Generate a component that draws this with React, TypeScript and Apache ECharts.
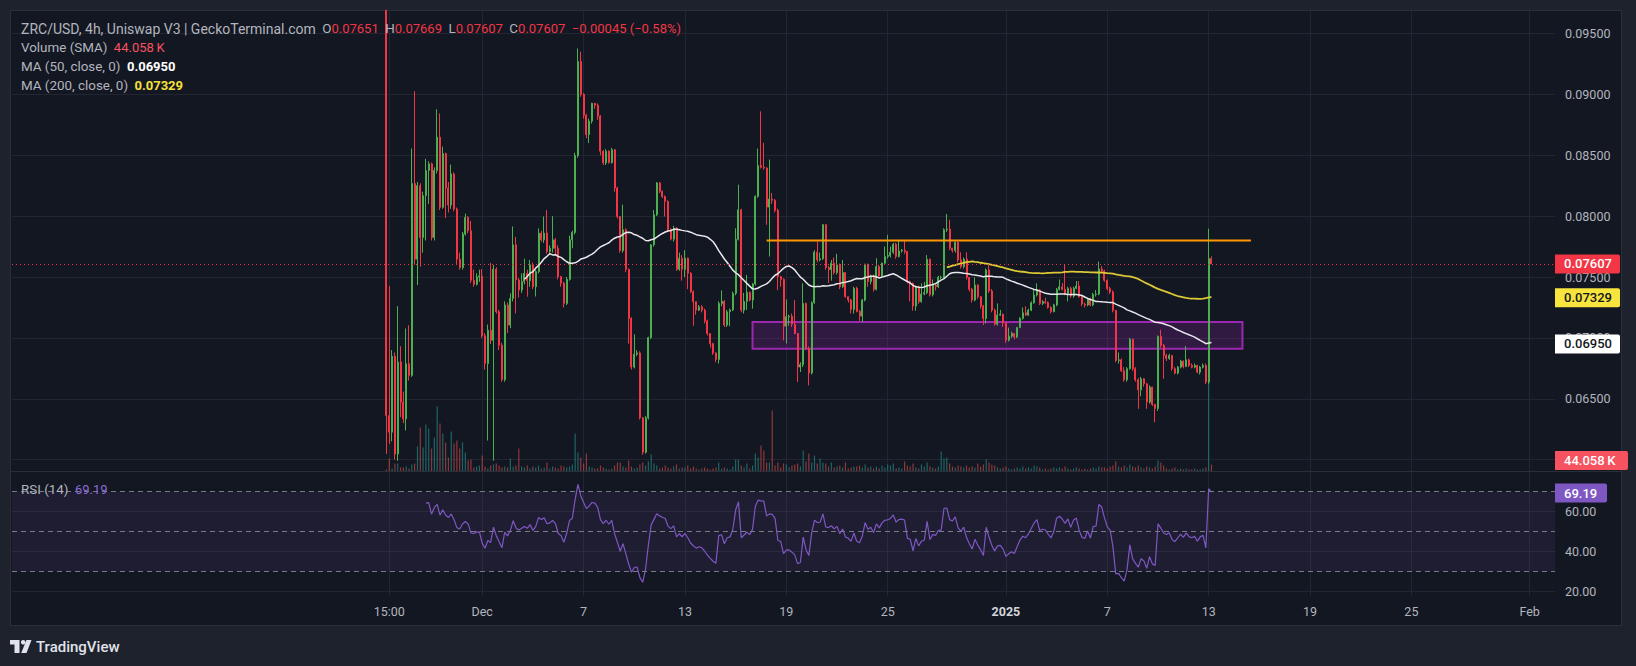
import React, { useEffect, useRef } from 'react';
import * as echarts from 'echarts';

// price unit for the candle table: 0.00001 USD
const PRICE_UNIT = 0.00001;

// ZRC/USD 4h candles, [open, high, low, close] in units of 0.00001 USD
const candles: number[][] = [
  // 0
  [9690, 9690, 6047, 6363], [6363, 7426, 6130, 6226], [6226, 6900, 6150, 6849], [6849, 6880, 6000, 6047], [6047, 7261, 5990, 6802],
  [6802, 6932, 6349, 6473], [6473, 6560, 6300, 6335], [6335, 7077, 6240, 6788], [6788, 7104, 6650, 6693], [6693, 8555, 6680, 8267],
  // 10
  [8267, 9025, 7600, 7646], [7646, 8280, 7434, 8250], [8250, 8270, 7585, 7824], [7824, 8200, 7700, 8168], [8168, 8470, 7800, 8374],
  [8374, 8450, 8100, 8429], [8429, 8440, 7800, 7824], [7824, 8400, 7800, 8374], [8374, 8876, 8350, 8648], [8648, 8843, 8050, 8072],
  // 20
  [8072, 8570, 8060, 8514], [8514, 8520, 7984, 8231], [8231, 8280, 8030, 8091], [8091, 8423, 8060, 8346], [8346, 8360, 8040, 8058],
  [8058, 8070, 7600, 7646], [7646, 7700, 7560, 7577], [7577, 7870, 7560, 7852], [7852, 8020, 7840, 7989], [7989, 8000, 7860, 7880],
  // 30
  [7880, 7960, 7450, 7473], [7473, 7560, 7420, 7440], [7440, 7530, 7430, 7500], [7500, 7560, 7460, 7509], [7509, 7565, 7000, 7017],
  [7017, 7040, 6740, 6789], [6789, 7110, 6157, 7063], [7063, 7616, 6950, 6980], [6980, 7600, 5992, 7565], [7565, 7580, 7200, 7215],
  // 40
  [7215, 7230, 6900, 6940], [6940, 6960, 6640, 6657], [6657, 7300, 6640, 7270], [7270, 7290, 7040, 7105], [7105, 7366, 7080, 7324],
  [7324, 7915, 7300, 7764], [7764, 7830, 7201, 7476], [7476, 7490, 7330, 7393], [7393, 7530, 7370, 7462], [7462, 7650, 7440, 7530],
  // 50
  [7530, 7560, 7338, 7470], [7470, 7640, 7420, 7600], [7600, 7620, 7400, 7420], [7420, 7560, 7340, 7544], [7544, 7900, 7530, 7860],
  [7860, 7880, 7790, 7805], [7805, 7997, 7780, 7860], [7860, 8050, 7690, 7709], [7709, 7760, 7690, 7736], [7736, 8000, 7700, 7805],
  // 60
  [7805, 7820, 7680, 7736], [7736, 7760, 7480, 7503], [7503, 7510, 7420, 7450], [7450, 7460, 7250, 7283], [7283, 7500, 7270, 7481],
  [7481, 7840, 7470, 7805], [7805, 7880, 7736, 7866], [7866, 8520, 7850, 8497], [8497, 9376, 8480, 9269], [9269, 9350, 8980, 9000],
  // 70
  [9000, 9010, 8800, 8827], [8827, 8840, 8640, 8670], [8670, 8800, 8600, 8780], [8780, 8930, 8760, 8926], [8926, 8930, 8880, 8910],
  [8910, 8925, 8790, 8820], [8820, 8830, 8500, 8533], [8533, 8540, 8420, 8437], [8437, 8550, 8420, 8533], [8533, 8540, 8430, 8440],
  // 80
  [8440, 8560, 8430, 8545], [8545, 8550, 8200, 8231], [8231, 8240, 7980, 7997], [7997, 8000, 7700, 7717], [7717, 8094, 7700, 7888],
  [7888, 7900, 7540, 7563], [7563, 7570, 6953, 7160], [7160, 7170, 6740, 6761], [6761, 7030, 6750, 6866], [6866, 6900, 6850, 6877],
  // 90
  [6877, 6890, 6330, 6344], [6344, 6350, 6040, 6061], [6061, 6360, 6050, 6344], [6344, 7010, 6330, 7003], [7003, 7770, 6990, 7764],
  [7764, 8050, 7750, 8011], [8011, 8280, 8000, 8272], [8272, 8280, 8190, 8203], [8203, 8210, 8150, 8160], [8160, 8170, 7997, 8121],
  // 100
  [8121, 8130, 7870, 7888], [7888, 7900, 7800, 7811], [7811, 7920, 7790, 7901], [7901, 7910, 7550, 7563], [7563, 7700, 7550, 7654],
  [7654, 7680, 7470, 7563], [7563, 7720, 7500, 7654], [7654, 7660, 7400, 7530], [7530, 7540, 7370, 7379], [7379, 7390, 7100, 7297],
  // 110
  [7297, 7300, 7190, 7228], [7228, 7270, 7220, 7256], [7256, 7270, 7210, 7228], [7228, 7240, 7120, 7140], [7140, 7150, 7020, 7036],
  [7036, 7040, 6920, 6953], [6953, 6960, 6860, 6877], [6877, 6880, 6800, 6822], [6822, 7300, 6790, 7283], [7283, 7390, 7260, 7300],
  // 120
  [7300, 7310, 7090, 7105], [7105, 7230, 7090, 7215], [7215, 7240, 7096, 7230], [7230, 7380, 7220, 7366], [7366, 7900, 7350, 7810],
  [7810, 8258, 7800, 8052], [8052, 8060, 7210, 7228], [7228, 7370, 7200, 7300], [7300, 7517, 7230, 7374], [7374, 7380, 7300, 7311],
  // 130
  [7311, 7450, 7240, 7443], [7443, 8170, 7430, 8162], [8162, 8555, 8150, 8415], [8415, 8860, 8390, 8401], [8401, 8602, 8380, 8395],
  [8395, 8400, 7929, 8074], [8074, 8464, 7668, 8140], [8140, 8190, 8100, 8130], [8130, 8140, 8030, 8047], [8047, 8060, 7393, 7503],
  // 140
  [7503, 7510, 7420, 7480], [7480, 7490, 6980, 7096], [7096, 7316, 6953, 7173], [7173, 7190, 7100, 7179], [7179, 7200, 7090, 7113],
  [7113, 7310, 7030, 7036], [7036, 7040, 6638, 6761], [6761, 6800, 6720, 6780], [6780, 7448, 6760, 7283], [7283, 7290, 6900, 6912],
  // 150
  [6912, 6930, 6610, 6712], [6712, 7300, 6700, 7289], [7289, 7720, 7280, 7704], [7704, 7791, 7620, 7640], [7640, 7700, 7630, 7650],
  [7650, 7935, 7640, 7929], [7929, 7935, 7560, 7577], [7577, 7590, 7450, 7560], [7560, 7640, 7470, 7613], [7613, 7660, 7520, 7536],
  // 160
  [7536, 7690, 7520, 7599], [7599, 7610, 7400, 7420], [7420, 7640, 7410, 7536], [7536, 7540, 7330, 7338], [7338, 7340, 7290, 7311],
  [7311, 7320, 7200, 7234], [7234, 7420, 7200, 7407], [7407, 7420, 7210, 7217], [7217, 7230, 7140, 7179], [7179, 7320, 7130, 7311],
  // 170
  [7311, 7610, 7300, 7599], [7599, 7610, 7420, 7462], [7462, 7520, 7440, 7508], [7508, 7520, 7380, 7399], [7399, 7654, 7390, 7585],
  [7585, 7600, 7490, 7508], [7508, 7620, 7500, 7613], [7613, 7750, 7600, 7668], [7668, 7846, 7650, 7676], [7676, 7750, 7660, 7703],
  // 180
  [7703, 7780, 7690, 7769], [7769, 7780, 7650, 7668], [7668, 7805, 7660, 7714], [7714, 7730, 7700, 7720], [7720, 7805, 7690, 7709],
  [7709, 7715, 7448, 7462], [7462, 7470, 7300, 7448], [7448, 7455, 7223, 7261], [7261, 7430, 7223, 7420], [7420, 7430, 7280, 7297],
  // 190
  [7297, 7448, 7290, 7360], [7360, 7460, 7350, 7371], [7371, 7680, 7360, 7646], [7646, 7650, 7340, 7355], [7355, 7480, 7340, 7434],
  [7434, 7440, 7390, 7420], [7420, 7510, 7410, 7497], [7497, 7510, 7480, 7500], [7500, 7900, 7490, 7888], [7888, 8017, 7870, 7893],
  // 200
  [7893, 7970, 7720, 7736], [7736, 7740, 7700, 7717], [7717, 7790, 7700, 7786], [7786, 7790, 7620, 7640], [7640, 7703, 7570, 7585],
  [7585, 7660, 7570, 7646], [7646, 7703, 7480, 7497], [7497, 7500, 7380, 7399], [7399, 7410, 7290, 7311], [7311, 7497, 7300, 7434],
  // 210
  [7434, 7440, 7320, 7338], [7338, 7345, 7240, 7261], [7261, 7270, 7105, 7160], [7160, 7570, 7118, 7558], [7558, 7599, 7370, 7385],
  [7385, 7400, 7210, 7228], [7228, 7240, 7100, 7113], [7113, 7283, 7100, 7187], [7187, 7230, 7180, 7195], [7195, 7200, 7090, 7124],
  // 220
  [7124, 7130, 6960, 6981], [6981, 7085, 6970, 7014], [7014, 7050, 7000, 7036], [7036, 7040, 6990, 7008], [7008, 7090, 7000, 7085],
  [7085, 7170, 7080, 7160], [7160, 7250, 7150, 7206], [7206, 7260, 7180, 7187], [7187, 7240, 7180, 7228], [7228, 7300, 7220, 7289],
  // 230
  [7289, 7400, 7280, 7352], [7352, 7448, 7340, 7393], [7393, 7400, 7270, 7283], [7283, 7310, 7270, 7297], [7297, 7330, 7280, 7290],
  [7290, 7300, 7240, 7250], [7250, 7260, 7200, 7215], [7215, 7280, 7210, 7270], [7270, 7410, 7260, 7399], [7399, 7480, 7390, 7420],
  // 240
  [7420, 7450, 7390, 7399], [7399, 7599, 7350, 7366], [7366, 7420, 7300, 7407], [7407, 7420, 7330, 7344], [7344, 7420, 7330, 7407],
  [7407, 7467, 7400, 7426], [7426, 7467, 7330, 7338], [7338, 7345, 7260, 7278], [7278, 7290, 7250, 7270], [7270, 7330, 7260, 7324],
  // 250
  [7324, 7330, 7260, 7270], [7270, 7370, 7260, 7357], [7357, 7393, 7340, 7360], [7360, 7627, 7350, 7566], [7566, 7590, 7530, 7549],
  [7549, 7560, 7460, 7473], [7473, 7480, 7390, 7404], [7404, 7420, 7360, 7377], [7377, 7390, 7210, 7226], [7226, 7230, 6800, 6815],
  // 260
  [6815, 6880, 6790, 6820], [6820, 6830, 6720, 6730], [6730, 6760, 6640, 6656], [6656, 6760, 6640, 6747], [6747, 7000, 6740, 6988],
  [6988, 6995, 6730, 6747], [6747, 6760, 6640, 6656], [6656, 6670, 6418, 6574], [6574, 6680, 6520, 6664], [6664, 6670, 6600, 6623],
  // 270
  [6623, 6630, 6418, 6473], [6473, 6610, 6460, 6596], [6596, 6600, 6440, 6453], [6453, 6460, 6308, 6420], [6420, 7020, 6400, 7012],
  [7012, 7067, 6920, 6938], [6938, 6950, 6664, 6856], [6856, 6870, 6810, 6830], [6830, 6870, 6820, 6856], [6856, 6860, 6730, 6747],
  // 280
  [6747, 6760, 6700, 6711], [6711, 6770, 6700, 6760], [6760, 6820, 6750, 6809], [6809, 6815, 6750, 6765], [6765, 6933, 6760, 6820],
  [6820, 6830, 6760, 6774], [6774, 6790, 6750, 6760], [6760, 6790, 6750, 6774], [6774, 6780, 6710, 6719], [6719, 6770, 6700, 6760],
  // 290
  [6760, 6790, 6750, 6774], [6774, 6790, 6620, 6637], [6637, 7897, 6620, 7652], [7651, 7669, 7607, 7607],
];

// Volume per candle, thousands of USD
const volumeK: number[] = [
  13, 83, 19, 51, 51, 26, 26, 32, 19, 45, 51, 160, 282, 154, 301, 275, 147, 218, 416, 307, 243, 186, 90, 256, 179, 198, 147, 186, 122, 70, 77, 26, 32, 38, 102, 32, 19, 38, 45, 51, 38, 26, 32,
  26, 83, 32, 38, 147, 32, 26, 38, 19, 32, 26, 38, 19, 26, 58, 19, 32, 26, 19, 38, 32, 26, 32, 45, 243, 122, 90, 51, 115, 32, 26, 19, 19, 38, 26, 19, 13, 19, 38, 58, 58, 32,
  26, 70, 32, 19, 26, 45, 58, 38, 64, 109, 51, 38, 19, 26, 38, 26, 19, 32, 45, 19, 26, 26, 38, 19, 32, 19, 13, 19, 26, 19, 13, 19, 26, 58, 19, 26, 19, 13, 32, 77, 77, 38,
  26, 51, 19, 38, 115, 90, 166, 134, 58, 58, 390, 38, 58, 26, 51, 45, 26, 38, 45, 51, 32, 134, 64, 115, 58, 102, 51, 83, 58, 51, 32, 58, 26, 32, 38, 26, 58, 19, 26, 32, 32, 38, 26,
  45, 26, 32, 19, 32, 19, 38, 26, 45, 38, 51, 19, 26, 19, 64, 38, 32, 51, 26, 19, 45, 32, 58, 32, 26, 19, 32, 128, 83, 90, 51, 32, 26, 38, 32, 26, 38, 26, 32, 26, 51, 32, 45,
  77, 58, 45, 38, 26, 19, 26, 32, 19, 13, 19, 26, 19, 32, 19, 26, 19, 38, 32, 26, 13, 19, 13, 19, 26, 19, 26, 19, 32, 19, 13, 19, 26, 19, 13, 19, 13, 19, 26, 19, 32, 26,
  26, 19, 32, 38, 64, 32, 26, 38, 26, 45, 32, 26, 38, 26, 19, 32, 26, 19, 32, 70, 58, 38, 19, 13, 19, 26, 13, 19, 13, 19, 13, 13, 19, 13, 13, 19, 26, 704, 44,
];

// time-axis labels: bar index (4h bars from the first candle) and text
const timeTicks = [
  { bar: 1, text: '15:00' },
  { bar: 34, text: 'Dec' },
  { bar: 70, text: '7' },
  { bar: 106, text: '13' },
  { bar: 142, text: '19' },
  { bar: 178, text: '25' },
  { bar: 220, text: '2025', bold: true },
  { bar: 256, text: '7' },
  { bar: 292, text: '13' },
  { bar: 328, text: '19' },
  { bar: 364, text: '25' },
  { bar: 406, text: 'Feb' },
];

const priceScale = { min: 0.06, max: 0.095, step: 0.005 };
const rsiScale = { min: 20, max: 80, step: 20 };
const rsiLevels = [70, 50, 30];
const rsiBand = [70, 30];

// drawings
const resistance = { price: 0.078, fromBar: 135, toBar: 307 };
const supportZone = { top: 0.0713, bottom: 0.0691, fromBar: 130, toBar: 304 };

const legendText = {
  title: 'ZRC/USD, 4h, Uniswap V3 | GeckoTerminal.com',
  o: '0.07651',
  h: '0.07669',
  l: '0.07607',
  c: '0.07607',
  change: '\u22120.00045 (\u22120.58%)',
  volume: '44.058\u2009K',
  ma50: '0.06950',
  ma200: '0.07329',
  rsi: '69.19',
};
const badgeValues = { last: 0.07607, ma200: 0.07329, ma50: 0.0695, volume: 44.058, rsi: 69.19 };

const LEAD_SLOTS = 133; // empty slots left of the first candle
const TOTAL_SLOTS = 549;

const FONT = 'Roboto, "Noto Sans", sans-serif';
const C_TEXT = '#b2b5be';
const C_GRID = '#222632';
const C_UP = '#4caf50';
const C_UP_FILL = '#26a07c';
const C_DOWN = '#f23645';

function sma(values: number[], n: number): (number | null)[] {
  const out: (number | null)[] = [];
  let sum = 0;
  for (let i = 0; i < values.length; i++) {
    sum += values[i];
    if (i >= n) sum -= values[i - n];
    out.push(i >= n - 1 ? sum / n : null);
  }
  return out;
}

function rsi(values: number[], n: number): (number | null)[] {
  const out: (number | null)[] = values.map(() => null);
  let ag = 0;
  let al = 0;
  for (let i = 1; i < values.length; i++) {
    const ch = values[i] - values[i - 1];
    const g = Math.max(ch, 0);
    const l = Math.max(-ch, 0);
    if (i <= n) {
      ag += g / n;
      al += l / n;
      if (i === n) out[i] = al === 0 ? 100 : 100 - 100 / (1 + ag / al);
    } else {
      ag = (ag * (n - 1) + g) / n;
      al = (al * (n - 1) + l) / n;
      out[i] = al === 0 ? 100 : 100 - 100 / (1 + ag / al);
    }
  }
  return out;
}

function buildOption() {
  const slots = Array.from({ length: TOTAL_SLOTS }, (_, k) => String(k));
  const tickMap = new Map<number, { text: string; bold?: boolean }>();
  timeTicks.forEach((t) => tickMap.set(t.bar + LEAD_SLOTS, t));
  const isTick = (idx: number) => tickMap.has(idx);

  const closes = candles.map((c) => c[3] * PRICE_UNIT);
  const ma50 = sma(closes, 50);
  const ma200 = sma(closes, 200);
  const rsi14 = rsi(closes, 14);

  const candleData = candles.map((c, i) => [
    i + LEAD_SLOTS,
    c[0] * PRICE_UNIT,
    c[3] * PRICE_UNIT,
    c[2] * PRICE_UNIT,
    c[1] * PRICE_UNIT,
  ]);
  const volData = volumeK.map((v, i) => ({
    value: [i + LEAD_SLOTS, v],
    itemStyle: { color: candles[i][3] >= candles[i][0] ? 'rgba(38,166,154,0.55)' : 'rgba(239,83,80,0.55)' },
  }));
  const lineData = (arr: (number | null)[]) =>
    arr.map((v, i) => (v == null ? null : [i + LEAD_SLOTS, v])).filter((d) => d != null);

  const gridBase = { left: 12, right: 81 };
  const hiddenX = (gridIndex: number) => ({
    type: 'category',
    gridIndex,
    data: slots,
    boundaryGap: false,
    show: false,
  });

  return {
    animation: false,
    textStyle: { fontFamily: FONT },
    grid: [
      { ...gridBase, top: 11, bottom: 70 },
      { ...gridBase, top: 33.4, height: 426.3 },
      { ...gridBase, top: 251.5, height: 220 },
      { ...gridBase, top: 471.5, height: 120 },
    ],
    xAxis: [
      {
        type: 'category',
        gridIndex: 0,
        data: slots,
        boundaryGap: false,
        axisLine: { show: false },
        axisTick: { show: false },
        axisLabel: {
          interval: (idx: number) => isTick(idx),
          formatter: (_v: string, idx: number) => {
            const t = tickMap.get(idx);
            if (!t) return '';
            return t.bold ? `{b|${t.text}}` : t.text;
          },
          color: C_TEXT,
          fontSize: 12.5,
          fontFamily: FONT,
          margin: 9,
          rich: { b: { fontWeight: 'bold', color: '#d1d4dc', fontSize: 12.5, fontFamily: FONT } },
        },
        splitLine: { show: true, interval: (idx: number) => isTick(idx), lineStyle: { color: C_GRID, width: 1 } },
      },
      hiddenX(1),
      hiddenX(2),
      hiddenX(3),
    ],
    yAxis: [
      { type: 'value', gridIndex: 0, show: false, min: 0, max: 1 },
      {
        type: 'value',
        gridIndex: 1,
        position: 'right',
        min: priceScale.min,
        max: priceScale.max,
        interval: priceScale.step,
        axisLine: { show: false },
        axisTick: { show: false },
        axisLabel: {
          color: C_TEXT,
          fontSize: 12.5,
          fontFamily: FONT,
          margin: 10,
          showMinLabel: false,
          formatter: (v: number) => v.toFixed(5),
        },
        splitLine: { show: true, lineStyle: { color: C_GRID, width: 1 } },
      },
      { type: 'value', gridIndex: 2, show: false, min: 0, max: 1408 },
      {
        type: 'value',
        gridIndex: 3,
        position: 'right',
        min: rsiScale.min,
        max: rsiScale.max,
        interval: rsiScale.step,
        axisLine: { show: false },
        axisTick: { show: false },
        axisLabel: {
          color: C_TEXT,
          fontSize: 12.5,
          fontFamily: FONT,
          margin: 10,
          showMaxLabel: false,
          formatter: (v: number) => v.toFixed(2),
        },
        splitLine: { show: true, lineStyle: { color: C_GRID, width: 1 } },
      },
    ],
    series: [
      {
        name: 'Volume',
        type: 'bar',
        xAxisIndex: 2,
        yAxisIndex: 2,
        barWidth: 1.2,
        data: volData,
        z: 1,
        silent: true,
      },
      {
        name: 'ZRC',
        type: 'candlestick',
        xAxisIndex: 1,
        yAxisIndex: 1,
        encode: { x: 0, y: [1, 2, 3, 4] },
        data: candleData,
        barWidth: 1.5,
        clip: false,
        z: 3,
        silent: true,
        itemStyle: {
          color: C_UP_FILL,
          color0: C_DOWN,
          borderColor: C_UP,
          borderColor0: C_DOWN,
          borderWidth: 1,
        },
      },
      {
        name: 'MA50',
        type: 'line',
        xAxisIndex: 1,
        yAxisIndex: 1,
        data: lineData(ma50),
        showSymbol: false,
        symbol: 'none',
        lineStyle: { color: '#e8e8ec', width: 1.5 },
        z: 4,
        silent: true,
        markLine: {
          silent: true,
          precision: 5,
          symbol: ['none', 'none'],
          label: { show: false },
          lineStyle: { color: C_DOWN, type: [1, 3], width: 1 },
          data: [{ yAxis: badgeValues.last }],
        },
      },
      {
        name: 'MA200',
        type: 'line',
        xAxisIndex: 1,
        yAxisIndex: 1,
        data: lineData(ma200),
        showSymbol: false,
        symbol: 'none',
        lineStyle: { color: '#dcc935', width: 1.8 },
        z: 4,
        silent: true,
      },
      {
        name: 'Resistance',
        type: 'line',
        xAxisIndex: 1,
        yAxisIndex: 1,
        data: [
          [resistance.fromBar + LEAD_SLOTS, resistance.price],
          [resistance.toBar + LEAD_SLOTS, resistance.price],
        ],
        showSymbol: false,
        symbol: 'none',
        lineStyle: { color: '#ff9800', width: 2 },
        z: 6,
        silent: true,
        markArea: {
          silent: true,
          itemStyle: { color: 'rgba(156,39,176,0.22)', borderColor: '#9c27b0', borderWidth: 2 },
          data: [
            [
              { coord: [supportZone.fromBar + LEAD_SLOTS, supportZone.top] },
              { coord: [supportZone.toBar + LEAD_SLOTS, supportZone.bottom] },
            ],
          ],
        },
      },
      {
        name: 'RSI',
        type: 'line',
        xAxisIndex: 3,
        yAxisIndex: 3,
        data: lineData(rsi14),
        showSymbol: false,
        symbol: 'none',
        lineStyle: { color: '#7e57c2', width: 1.2 },
        z: 4,
        silent: true,
        markArea: {
          silent: true,
          itemStyle: { color: 'rgba(126,87,194,0.1)' },
          data: [[{ yAxis: rsiBand[0] }, { yAxis: rsiBand[1] }]],
        },
        markLine: {
          silent: true,
          precision: 2,
          symbol: ['none', 'none'],
          label: { show: false },
          lineStyle: { color: '#787b86', type: [5, 4], width: 1 },
          data: rsiLevels.map((v) => ({ yAxis: v })),
        },
      },
    ],
  };
}

function badge(y: number, text: string, fill: string, color: string, width: number) {
  return {
    type: 'group',
    z: 100,
    children: [
      {
        type: 'rect',
        shape: { x: 1555, y: y - 9.5, width, height: 19, r: [0, 2, 2, 0] },
        style: { fill },
        z: 100,
      },
      {
        type: 'text',
        z: 101,
        style: {
          text,
          x: 1564,
          y,
          fill: color,
          fontSize: 13,
          fontWeight: 500,
          fontFamily: FONT,
          verticalAlign: 'middle',
          align: 'left',
        },
      },
    ],
  };
}

function legendLine(y: number, text: string, rich: Record<string, any>) {
  return {
    type: 'text',
    z: 100,
    style: {
      text,
      x: 21,
      y,
      fill: C_TEXT,
      fontSize: 13,
      fontFamily: FONT,
      verticalAlign: 'middle',
      rich,
    },
  };
}

export default function App() {
  const ref = useRef<HTMLDivElement>(null);

  useEffect(() => {
    const el = ref.current;
    if (!el) return;
    const chart = echarts.init(el, null, { renderer: 'svg' });
    chart.setOption(buildOption() as any);

    const py = (v: number) => chart.convertToPixel({ yAxisIndex: 1 } as any, v) as unknown as number;
    const vy = (v: number) => chart.convertToPixel({ yAxisIndex: 2 } as any, v) as unknown as number;
    const ry = (v: number) => chart.convertToPixel({ yAxisIndex: 3 } as any, v) as unknown as number;

    const baseRich = {
      t: { fill: C_TEXT, color: C_TEXT, fontSize: 14, fontFamily: FONT },
      g: { fill: C_TEXT, color: C_TEXT, fontSize: 13.4, fontFamily: FONT },
      r: { fill: '#f23645', color: '#f23645', fontSize: 13, fontFamily: FONT },
      p: { fill: '#f7525f', color: '#f7525f', fontSize: 13, fontFamily: FONT },
      w: { fill: '#ffffff', color: '#ffffff', fontSize: 13, fontFamily: FONT, fontWeight: 'bold' },
      y: { fill: '#f5e03b', color: '#f5e03b', fontSize: 13, fontFamily: FONT, fontWeight: 'bold' },
      v: { fill: '#8e6ad6', color: '#8e6ad6', fontSize: 13, fontFamily: FONT },
    };

    const volY = Math.min(vy(badgeValues.volume), 471.5 - 11);

    chart.setOption({
      graphic: [
        legendLine(
          28.5,
          `{t|${legendText.title}}  {g|O}{r|${legendText.o}}  {g|H}{r|${legendText.h}}  {g|L}{r|${legendText.l}}  {g|C}{r|${legendText.c}}  {r|${legendText.change}}`,
          baseRich
        ),
        legendLine(47.5, `{g|Volume (SMA)}  {p|${legendText.volume}}`, baseRich),
        legendLine(66.5, `{g|MA (50, close, 0)}  {w|${legendText.ma50}}`, baseRich),
        legendLine(85.5, `{g|MA (200, close, 0)}  {y|${legendText.ma200}}`, baseRich),
        legendLine(489, `{g|RSI (14)}  {v|${legendText.rsi}}`, baseRich),
        {
          type: 'line',
          z: 50,
          shape: { x1: 11, y1: 471.5, x2: 1621, y2: 471.5 },
          style: { stroke: '#2a2e39', lineWidth: 1 },
        },
        badge(py(badgeValues.last), legendText.c, '#f23645', '#ffffff', 65),
        badge(py(badgeValues.ma200), legendText.ma200, '#f7e43c', '#131722', 65),
        badge(py(badgeValues.ma50), legendText.ma50, '#ffffff', '#131722', 65),
        badge(volY, legendText.volume, '#f7525f', '#ffffff', 73),
        badge(ry(badgeValues.rsi), legendText.rsi, '#7e57c2', '#ffffff', 52),
        // TradingView watermark
        {
          type: 'group',
          z: 100,
          children: [
            {
              type: 'polygon',
              shape: { points: [[10, 640], [19.5, 640], [19.5, 653], [14.5, 653], [14.5, 644.5], [10, 644.5]] },
              style: { fill: '#e0e3eb' },
            },
            { type: 'circle', shape: { cx: 23.2, cy: 642.3, r: 2.3 }, style: { fill: '#e0e3eb' } },
            {
              type: 'polygon',
              shape: { points: [[26.5, 640], [31.5, 640], [26.5, 653], [21.2, 653]] },
              style: { fill: '#e0e3eb' },
            },
            {
              type: 'text',
              style: {
                text: 'TradingView',
                x: 36,
                y: 647,
                fill: '#e0e3eb',
                fontSize: 15,
                fontWeight: 500,
                fontFamily: FONT,
                verticalAlign: 'middle',
              },
            },
          ],
        },
      ],
    } as any);

    return () => chart.dispose();
  }, []);

  return (
    <div style={{ position: 'relative', width: 1636, height: 666, background: '#1e222d', overflow: 'hidden' }}>
      <style>{'body{margin:0;background:#1e222d;}'}</style>
      <div
        style={{
          position: 'absolute',
          left: 10,
          top: 10,
          width: 1612,
          height: 616,
          background: '#131722',
          border: '1px solid #2a2e39',
          boxSizing: 'border-box',
        }}
      />
      <div ref={ref} style={{ position: 'absolute', left: 0, top: 0, width: 1636, height: 666 }} />
    </div>
  );
}
